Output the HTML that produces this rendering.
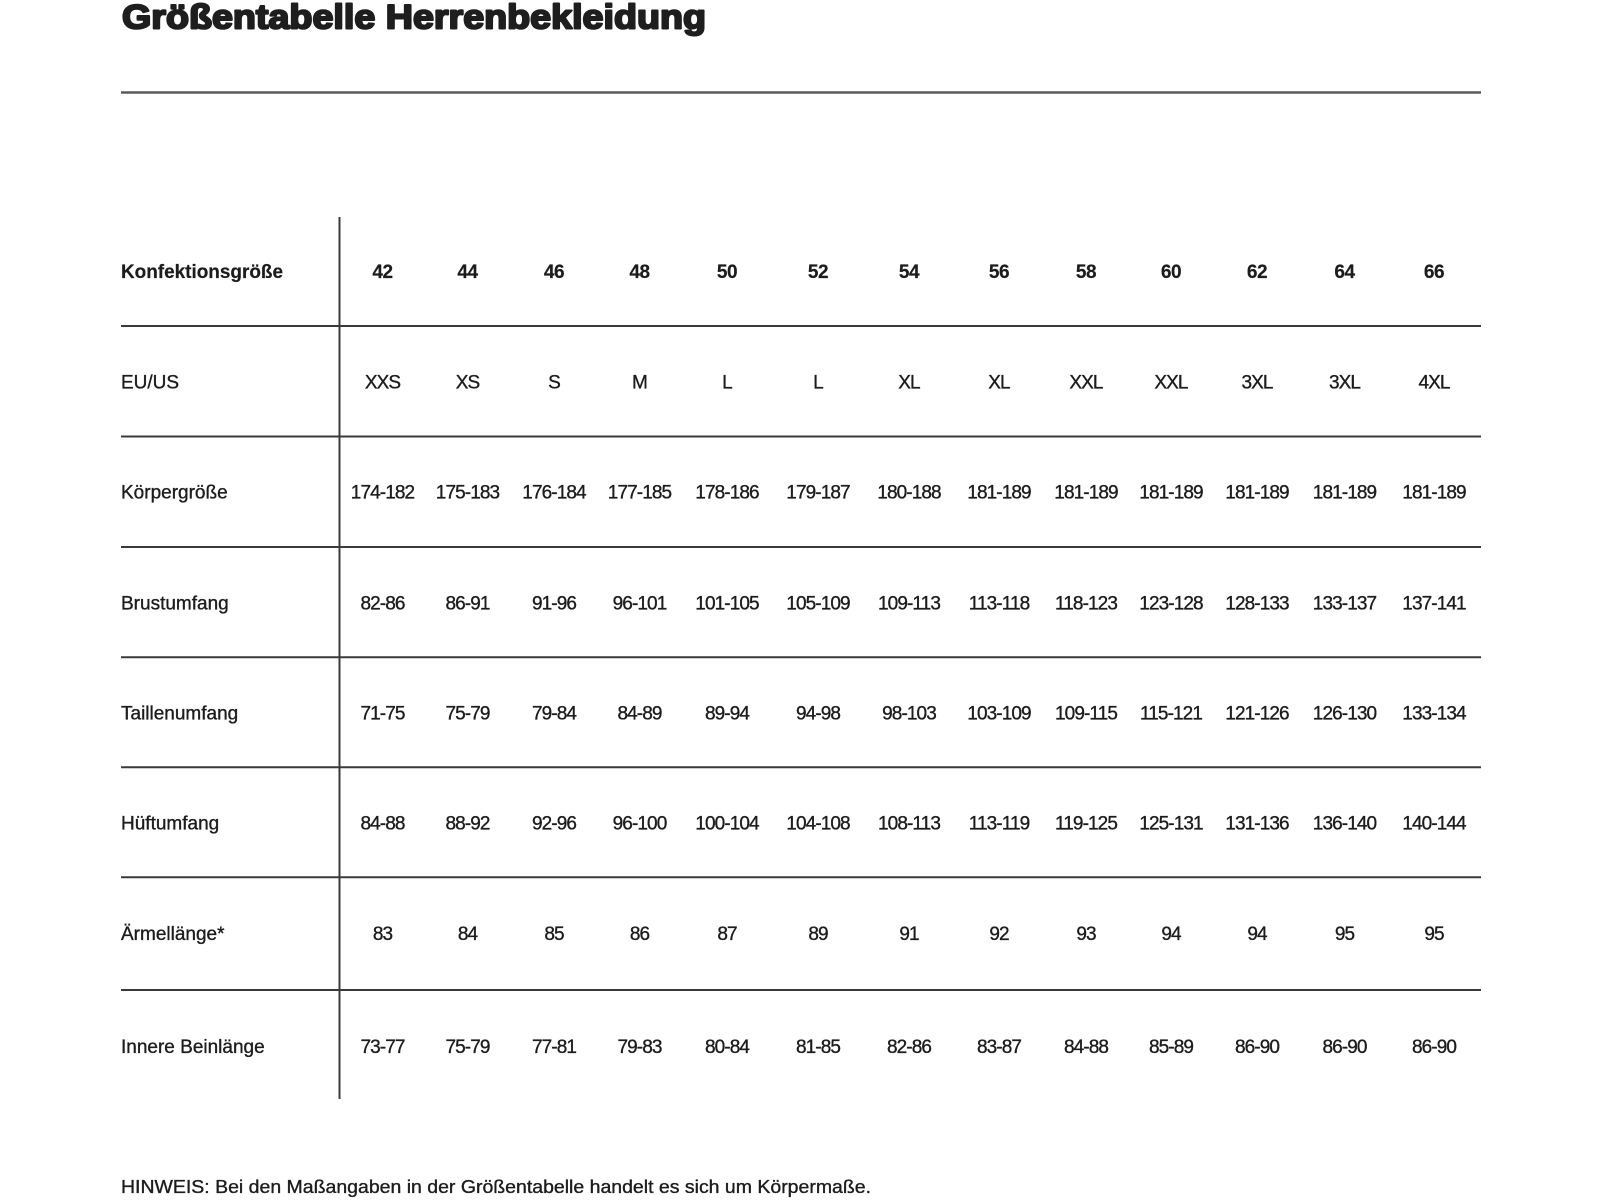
<!DOCTYPE html>
<html>
<head>
<meta charset="utf-8">
<style>
html,body{margin:0;padding:0;background:#fff;width:1600px;height:1200px;overflow:hidden;}
svg{display:block;}
text{font-family:"Liberation Sans", sans-serif;fill:#1c1c1c;stroke:#1c1c1c;stroke-width:0.35px;}
.lbl{font-size:19px;}
.num{font-size:19px;letter-spacing:-0.9px;}
.hdr{font-size:19px;font-weight:bold;stroke-width:0.2px;}
.hnum{font-size:19px;font-weight:bold;letter-spacing:-0.5px;stroke-width:0.2px;}
</style>
</head>
<body>
<svg width="1600" height="1200" viewBox="0 0 1600 1200" xmlns="http://www.w3.org/2000/svg">
<rect width="1600" height="1200" fill="#fff"/>
<!-- Title -->
<text x="122" y="28.5" font-size="34.5" font-weight="bold" textLength="584" lengthAdjust="spacingAndGlyphs" style="fill:#1e1e1e;stroke:#1e1e1e;stroke-width:2.1px;stroke-linejoin:round;">Größentabelle Herrenbekleidung</text>
<line x1="121" y1="92.5" x2="1481" y2="92.5" stroke="#5a5a5a" stroke-width="2.5"/>

<!-- Grid lines -->
<g stroke="#3a3a3a" stroke-width="2">
<line x1="121" y1="326" x2="1481" y2="326"/>
<line x1="121" y1="436.5" x2="1481" y2="436.5"/>
<line x1="121" y1="547" x2="1481" y2="547"/>
<line x1="121" y1="657.3" x2="1481" y2="657.3"/>
<line x1="121" y1="767.3" x2="1481" y2="767.3"/>
<line x1="121" y1="877.3" x2="1481" y2="877.3"/>
<line x1="121" y1="990" x2="1481" y2="990"/>
<line x1="339.5" y1="217" x2="339.5" y2="1099"/>
</g>

<!-- Header row -->
<text class="hdr" x="121" y="278" textLength="162" lengthAdjust="spacingAndGlyphs">Konfektionsgröße</text>
<g text-anchor="middle">
<text class="hnum" x="382.5" y="278">42</text>
<text class="hnum" x="467.5" y="278">44</text>
<text class="hnum" x="554" y="278">46</text>
<text class="hnum" x="639.5" y="278">48</text>
<text class="hnum" x="727" y="278">50</text>
<text class="hnum" x="818" y="278">52</text>
<text class="hnum" x="909" y="278">54</text>
<text class="hnum" x="999" y="278">56</text>
<text class="hnum" x="1086" y="278">58</text>
<text class="hnum" x="1171" y="278">60</text>
<text class="hnum" x="1257" y="278">62</text>
<text class="hnum" x="1344.5" y="278">64</text>
<text class="hnum" x="1434" y="278">66</text>
</g>

<!-- EU/US -->
<text class="lbl" x="121" y="388.3">EU/US</text>
<g text-anchor="middle">
<text class="num" x="382.5" y="388.3">XXS</text>
<text class="num" x="467.5" y="388.3">XS</text>
<text class="num" x="554" y="388.3">S</text>
<text class="num" x="639.5" y="388.3">M</text>
<text class="num" x="727" y="388.3">L</text>
<text class="num" x="818" y="388.3">L</text>
<text class="num" x="909" y="388.3">XL</text>
<text class="num" x="999" y="388.3">XL</text>
<text class="num" x="1086" y="388.3">XXL</text>
<text class="num" x="1171" y="388.3">XXL</text>
<text class="num" x="1257" y="388.3">3XL</text>
<text class="num" x="1344.5" y="388.3">3XL</text>
<text class="num" x="1434" y="388.3">4XL</text>
</g>

<!-- Körpergröße -->
<text class="lbl" x="121" y="498.3">Körpergröße</text>
<g text-anchor="middle">
<text class="num" x="382.5" y="498.3">174-182</text>
<text class="num" x="467.5" y="498.3">175-183</text>
<text class="num" x="554" y="498.3">176-184</text>
<text class="num" x="639.5" y="498.3">177-185</text>
<text class="num" x="727" y="498.3">178-186</text>
<text class="num" x="818" y="498.3">179-187</text>
<text class="num" x="909" y="498.3">180-188</text>
<text class="num" x="999" y="498.3">181-189</text>
<text class="num" x="1086" y="498.3">181-189</text>
<text class="num" x="1171" y="498.3">181-189</text>
<text class="num" x="1257" y="498.3">181-189</text>
<text class="num" x="1344.5" y="498.3">181-189</text>
<text class="num" x="1434" y="498.3">181-189</text>
</g>

<!-- Brustumfang -->
<text class="lbl" x="121" y="609.3">Brustumfang</text>
<g text-anchor="middle">
<text class="num" x="382.5" y="609.3">82-86</text>
<text class="num" x="467.5" y="609.3">86-91</text>
<text class="num" x="554" y="609.3">91-96</text>
<text class="num" x="639.5" y="609.3">96-101</text>
<text class="num" x="727" y="609.3">101-105</text>
<text class="num" x="818" y="609.3">105-109</text>
<text class="num" x="909" y="609.3">109-113</text>
<text class="num" x="999" y="609.3">113-118</text>
<text class="num" x="1086" y="609.3">118-123</text>
<text class="num" x="1171" y="609.3">123-128</text>
<text class="num" x="1257" y="609.3">128-133</text>
<text class="num" x="1344.5" y="609.3">133-137</text>
<text class="num" x="1434" y="609.3">137-141</text>
</g>

<!-- Taillenumfang -->
<text class="lbl" x="121" y="719.5">Taillenumfang</text>
<g text-anchor="middle">
<text class="num" x="382.5" y="719.5">71-75</text>
<text class="num" x="467.5" y="719.5">75-79</text>
<text class="num" x="554" y="719.5">79-84</text>
<text class="num" x="639.5" y="719.5">84-89</text>
<text class="num" x="727" y="719.5">89-94</text>
<text class="num" x="818" y="719.5">94-98</text>
<text class="num" x="909" y="719.5">98-103</text>
<text class="num" x="999" y="719.5">103-109</text>
<text class="num" x="1086" y="719.5">109-115</text>
<text class="num" x="1171" y="719.5">115-121</text>
<text class="num" x="1257" y="719.5">121-126</text>
<text class="num" x="1344.5" y="719.5">126-130</text>
<text class="num" x="1434" y="719.5">133-134</text>
</g>

<!-- Hüftumfang -->
<text class="lbl" x="121" y="829.3">Hüftumfang</text>
<g text-anchor="middle">
<text class="num" x="382.5" y="829.3">84-88</text>
<text class="num" x="467.5" y="829.3">88-92</text>
<text class="num" x="554" y="829.3">92-96</text>
<text class="num" x="639.5" y="829.3">96-100</text>
<text class="num" x="727" y="829.3">100-104</text>
<text class="num" x="818" y="829.3">104-108</text>
<text class="num" x="909" y="829.3">108-113</text>
<text class="num" x="999" y="829.3">113-119</text>
<text class="num" x="1086" y="829.3">119-125</text>
<text class="num" x="1171" y="829.3">125-131</text>
<text class="num" x="1257" y="829.3">131-136</text>
<text class="num" x="1344.5" y="829.3">136-140</text>
<text class="num" x="1434" y="829.3">140-144</text>
</g>

<!-- Ärmellänge -->
<text class="lbl" x="121" y="940">Ärmellänge*</text>
<g text-anchor="middle">
<text class="num" x="382.5" y="940">83</text>
<text class="num" x="467.5" y="940">84</text>
<text class="num" x="554" y="940">85</text>
<text class="num" x="639.5" y="940">86</text>
<text class="num" x="727" y="940">87</text>
<text class="num" x="818" y="940">89</text>
<text class="num" x="909" y="940">91</text>
<text class="num" x="999" y="940">92</text>
<text class="num" x="1086" y="940">93</text>
<text class="num" x="1171" y="940">94</text>
<text class="num" x="1257" y="940">94</text>
<text class="num" x="1344.5" y="940">95</text>
<text class="num" x="1434" y="940">95</text>
</g>

<!-- Innere Beinlänge -->
<text class="lbl" x="121" y="1053">Innere Beinlänge</text>
<g text-anchor="middle">
<text class="num" x="382.5" y="1053">73-77</text>
<text class="num" x="467.5" y="1053">75-79</text>
<text class="num" x="554" y="1053">77-81</text>
<text class="num" x="639.5" y="1053">79-83</text>
<text class="num" x="727" y="1053">80-84</text>
<text class="num" x="818" y="1053">81-85</text>
<text class="num" x="909" y="1053">82-86</text>
<text class="num" x="999" y="1053">83-87</text>
<text class="num" x="1086" y="1053">84-88</text>
<text class="num" x="1171" y="1053">85-89</text>
<text class="num" x="1257" y="1053">86-90</text>
<text class="num" x="1344.5" y="1053">86-90</text>
<text class="num" x="1434" y="1053">86-90</text>
</g>

<!-- Note -->
<text x="121" y="1193" font-size="18" textLength="750" lengthAdjust="spacingAndGlyphs">HINWEIS: Bei den Maßangaben in der Größentabelle handelt es sich um Körpermaße.</text>
</svg>
</body>
</html>
